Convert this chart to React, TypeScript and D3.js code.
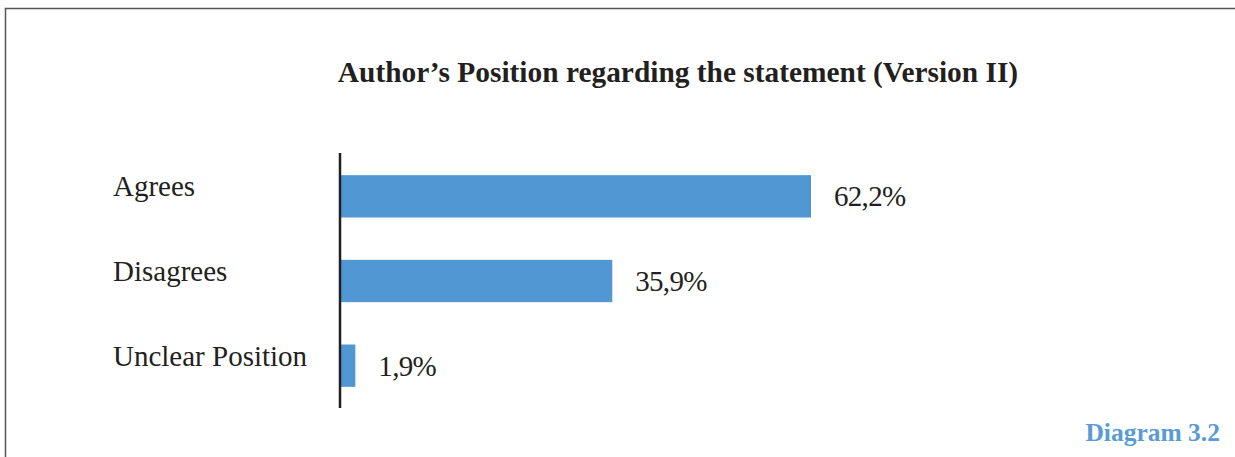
import React, { useEffect } from "react";
import * as d3 from "d3";

const categories = ["Agrees", "Disagrees", "Unclear Position"];
const values = [62.2, 35.9, 1.9];
const valueLabels = ["62,2%", "35,9%", "1,9%"];
const titleText = "Author\u2019s Position regarding the statement (Version II)";
const captionText = "Diagram 3.2";

export default function App() {
  useEffect(() => {
    document.body.style.margin = "0";
  }, []);

  const W = 1235;
  const H = 457;
  const x0 = 341;
  const x = d3.scaleLinear().domain([0, 62.2]).range([x0, 811]);
  const y = d3.scaleBand<string>().domain(categories).range([154, 408]).paddingInner(0.5).paddingOuter(0.25);
  const font = "'Liberation Serif', 'Times New Roman', serif";

  return (
    <svg width={W} height={H} style={{ display: "block" }}>
      <rect x={0} y={0} width={W} height={H} fill="#fff" />
      <path d={`M5.5,${H + 2} V8.5 H${W + 2}`} fill="none" stroke="#555" strokeWidth={1.5} />
      <text x={678} y={82} textAnchor="middle" fontFamily={font} fontWeight="bold" fontSize={29.4} fill="#231f20">
        {titleText}
      </text>
      {categories.map((c, i) => {
        const yc = (y(c) as number) + y.bandwidth() / 2;
        return (
          <g key={c}>
            <rect x={x0} y={y(c)} width={x(values[i]) - x0} height={y.bandwidth()} fill="#5197d3" />
            <text x={113} y={yc} fontFamily={font} fontSize={29} fill="#231f20">
              {c}
            </text>
            <text x={x(values[i]) + 23} y={yc + 10} fontFamily={font} fontSize={29} letterSpacing={-0.7} fill="#231f20">
              {valueLabels[i]}
            </text>
          </g>
        );
      })}
      <line x1={340} x2={340} y1={153} y2={408} stroke="#231f20" strokeWidth={2.5} />
      <text x={1220} y={441} textAnchor="end" fontFamily={font} fontWeight="bold" fontSize={25.5} fill="#5b9bd5">
        {captionText}
      </text>
    </svg>
  );
}
